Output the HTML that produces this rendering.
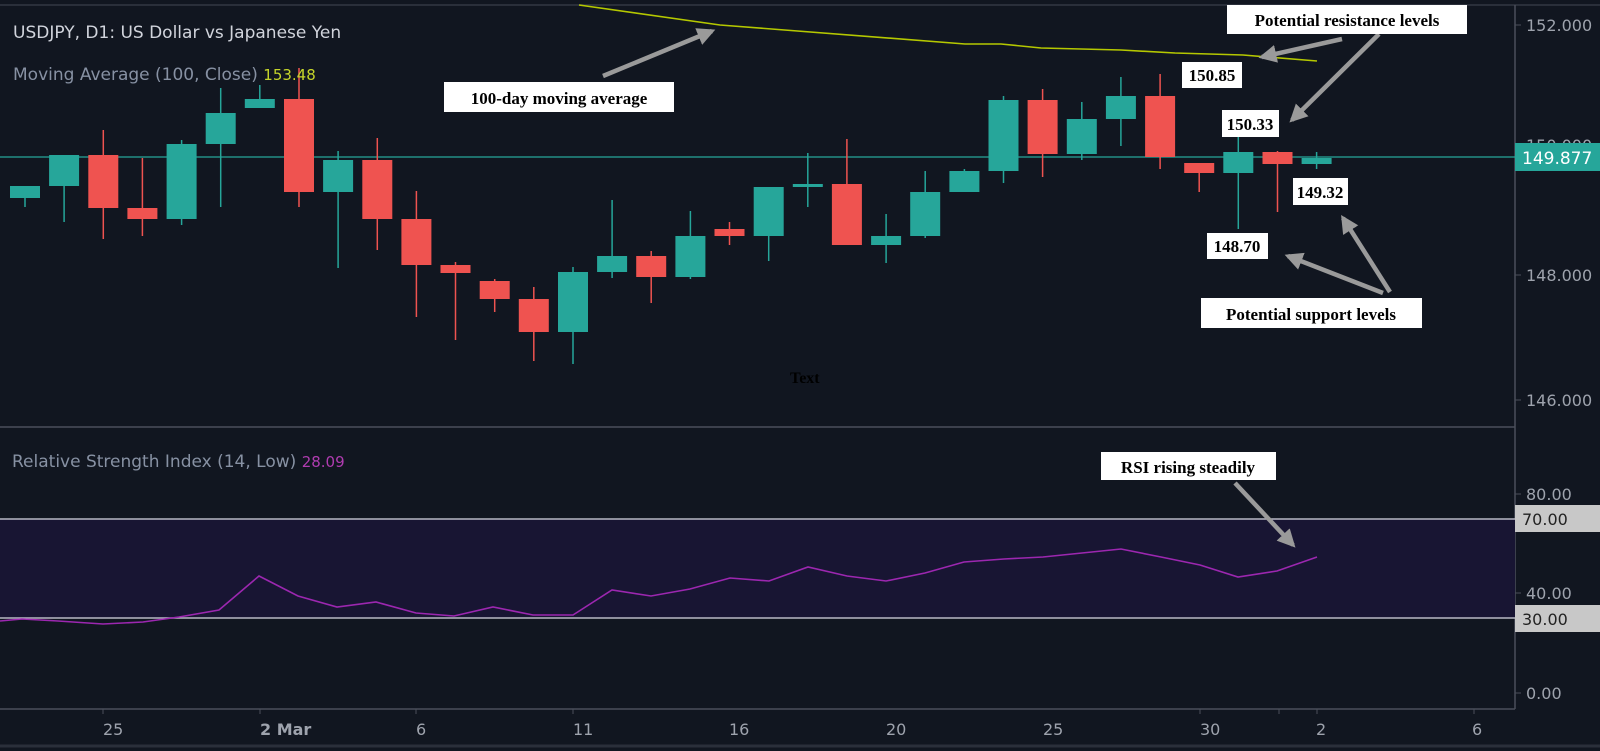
<!DOCTYPE html>
<html><head><meta charset="utf-8"><style>
html,body{margin:0;padding:0;background:#111620;}
svg{display:block}
.ax{font-family:"DejaVu Sans","Liberation Sans",sans-serif;font-size:16px;fill:#9ea3ad}
.an{font-family:"Liberation Serif",serif;font-weight:bold;font-size:17px;fill:#000}
.u line{stroke:#26a69a;stroke-width:1.5}.u rect{fill:#26a69a}
.d line{stroke:#ef5350;stroke-width:1.5}.d rect{fill:#ef5350}
</style></head><body>
<svg width="1600" height="751" viewBox="0 0 1600 751" xmlns="http://www.w3.org/2000/svg">
<rect width="1600" height="751" fill="#111620"/>
<line x1="0" y1="5" x2="1600" y2="5" stroke="#2a2f3a" stroke-width="2"/>
<line x1="0" y1="746" x2="1600" y2="746" stroke="#2a2f3a" stroke-width="3"/>
<line x1="1515" y1="5" x2="1515" y2="709" stroke="#4a4f5a" stroke-width="1.5"/>
<line x1="0" y1="427" x2="1515" y2="427" stroke="#4a4f5a" stroke-width="1.5"/>
<line x1="0" y1="709" x2="1515" y2="709" stroke="#4a4f5a" stroke-width="1.5"/>
<rect x="0" y="519" width="1515" height="99" fill="#181533"/>
<line x1="0" y1="519" x2="1515" y2="519" stroke="#b8b8c4" stroke-width="1.5"/>
<line x1="0" y1="618" x2="1515" y2="618" stroke="#b8b8c4" stroke-width="1.5"/>
<polyline fill="none" stroke="#9c27b0" stroke-width="1.6" points="0,621 22,619 58,621 103,624 143,622 179,617 219,610 259,576 298,596 337,607 376,602 416,613 454,616 493,607 533,615 573,615 612,590 651,596 690,589 730,578 769,581 808,567 847,576 886,581 925,573 964,562 1004,559 1043,557 1082,553 1121,549 1161,557 1200,565 1238,577 1277,571 1317,557"/>
<line x1="0" y1="157" x2="1515" y2="157" stroke="#26a69a" stroke-width="1.2"/>
<polyline fill="none" stroke="#b5c800" stroke-width="1.6" points="579,5 720,25 965,44 1001,44 1041,48 1121,50 1175,53 1243,55 1317,61"/>
<!-- candles -->
<g class="u"><line x1="25" x2="25" y1="186" y2="207"/><rect x="10" y="186" width="30" height="12"/></g>
<g class="u"><line x1="64.1" x2="64.1" y1="155" y2="222"/><rect x="49.1" y="155" width="30" height="31"/></g>
<g class="d"><line x1="103.3" x2="103.3" y1="130" y2="239"/><rect x="88.3" y="155" width="30" height="53"/></g>
<g class="d"><line x1="142.4" x2="142.4" y1="158" y2="236"/><rect x="127.4" y="208" width="30" height="11"/></g>
<g class="u"><line x1="181.6" x2="181.6" y1="140" y2="225"/><rect x="166.6" y="144" width="30" height="75"/></g>
<g class="u"><line x1="220.7" x2="220.7" y1="88" y2="207"/><rect x="205.7" y="113" width="30" height="31"/></g>
<g class="u"><line x1="259.8" x2="259.8" y1="85" y2="108"/><rect x="244.8" y="99" width="30" height="9"/></g>
<g class="d"><line x1="299" x2="299" y1="68" y2="207"/><rect x="284" y="99" width="30" height="93"/></g>
<g class="u"><line x1="338.1" x2="338.1" y1="151" y2="268"/><rect x="323.1" y="160" width="30" height="32"/></g>
<g class="d"><line x1="377.3" x2="377.3" y1="138" y2="250"/><rect x="362.3" y="160" width="30" height="59"/></g>
<g class="d"><line x1="416.4" x2="416.4" y1="191" y2="317"/><rect x="401.4" y="219" width="30" height="46"/></g>
<g class="d"><line x1="455.5" x2="455.5" y1="262" y2="340"/><rect x="440.5" y="265" width="30" height="8"/></g>
<g class="d"><line x1="494.7" x2="494.7" y1="279" y2="312"/><rect x="479.7" y="281" width="30" height="18"/></g>
<g class="d"><line x1="533.8" x2="533.8" y1="287" y2="361"/><rect x="518.8" y="299" width="30" height="33"/></g>
<g class="u"><line x1="573" x2="573" y1="267" y2="364"/><rect x="558" y="272" width="30" height="60"/></g>
<g class="u"><line x1="612.1" x2="612.1" y1="200" y2="278"/><rect x="597.1" y="256" width="30" height="16"/></g>
<g class="d"><line x1="651.2" x2="651.2" y1="251" y2="303"/><rect x="636.2" y="256" width="30" height="21"/></g>
<g class="u"><line x1="690.4" x2="690.4" y1="211" y2="279"/><rect x="675.4" y="236" width="30" height="41"/></g>
<g class="d"><line x1="729.5" x2="729.5" y1="222" y2="245"/><rect x="714.5" y="229" width="30" height="7"/></g>
<g class="u"><line x1="768.7" x2="768.7" y1="187" y2="261"/><rect x="753.7" y="187" width="30" height="49"/></g>
<g class="u"><line x1="807.8" x2="807.8" y1="153" y2="207"/><rect x="792.8" y="184" width="30" height="3"/></g>
<g class="d"><line x1="846.9" x2="846.9" y1="139" y2="245"/><rect x="831.9" y="184" width="30" height="61"/></g>
<g class="u"><line x1="886.1" x2="886.1" y1="214" y2="263"/><rect x="871.1" y="236" width="30" height="9"/></g>
<g class="u"><line x1="925.2" x2="925.2" y1="171" y2="238"/><rect x="910.2" y="192" width="30" height="44"/></g>
<g class="u"><line x1="964.4" x2="964.4" y1="169" y2="192"/><rect x="949.4" y="171" width="30" height="21"/></g>
<g class="u"><line x1="1003.5" x2="1003.5" y1="96" y2="183"/><rect x="988.5" y="100" width="30" height="71"/></g>
<g class="d"><line x1="1042.6" x2="1042.6" y1="89" y2="177"/><rect x="1027.6" y="100" width="30" height="54"/></g>
<g class="u"><line x1="1081.8" x2="1081.8" y1="102" y2="160"/><rect x="1066.8" y="119" width="30" height="35"/></g>
<g class="u"><line x1="1120.9" x2="1120.9" y1="77" y2="146"/><rect x="1105.9" y="96" width="30" height="23"/></g>
<g class="d"><line x1="1160.1" x2="1160.1" y1="74" y2="169"/><rect x="1145.1" y="96" width="30" height="61"/></g>
<g class="d"><line x1="1199.2" x2="1199.2" y1="163" y2="192"/><rect x="1184.2" y="163" width="30" height="10"/></g>
<g class="u"><line x1="1238.3" x2="1238.3" y1="137" y2="229"/><rect x="1223.3" y="152" width="30" height="21"/></g>
<g class="d"><line x1="1277.5" x2="1277.5" y1="151" y2="212"/><rect x="1262.5" y="152" width="30" height="12"/></g>
<g class="u"><line x1="1316.6" x2="1316.6" y1="152" y2="169"/><rect x="1301.6" y="158" width="30" height="6"/></g>
<!-- price axis -->
<g class="ax">
<line x1="1515" y1="25" x2="1521" y2="25" stroke="#4a4f5a"/><text x="1526" y="31">152.000</text>
<text x="1526" y="151">150.000</text>
<line x1="1515" y1="275" x2="1521" y2="275" stroke="#4a4f5a"/><text x="1526" y="281">148.000</text>
<line x1="1515" y1="400" x2="1521" y2="400" stroke="#4a4f5a"/><text x="1526" y="406">146.000</text>
<line x1="1515" y1="494" x2="1521" y2="494" stroke="#4a4f5a"/><text x="1526" y="500">80.00</text>
<line x1="1515" y1="593" x2="1521" y2="593" stroke="#4a4f5a"/><text x="1526" y="599">40.00</text>
<line x1="1515" y1="693" x2="1521" y2="693" stroke="#4a4f5a"/><text x="1526" y="699">0.00</text>
</g>
<rect x="1515" y="143" width="85" height="28" fill="#26a69a"/>
<text x="1522" y="164" class="ax" style="fill:#fff;font-size:17px">149.877</text>
<rect x="1515" y="505" width="85" height="27" fill="#c8c8c8"/>
<text x="1522" y="525" class="ax" style="fill:#222">70.00</text>
<rect x="1515" y="605" width="85" height="27" fill="#c8c8c8"/>
<text x="1522" y="625" class="ax" style="fill:#222">30.00</text>
<g stroke="#4a4f5a">
<line x1="103" y1="709" x2="103" y2="714"/><line x1="260" y1="709" x2="260" y2="714"/><line x1="416" y1="709" x2="416" y2="714"/><line x1="573" y1="709" x2="573" y2="714"/><line x1="1200" y1="709" x2="1200" y2="714"/><line x1="1279" y1="709" x2="1279" y2="714"/><line x1="1317" y1="709" x2="1317" y2="714"/><line x1="1474" y1="709" x2="1474" y2="714"/>
</g>
<g class="ax">
<text x="103" y="735">25</text><text x="260" y="735" style="font-weight:bold">2 Mar</text><text x="416" y="735">6</text><text x="573" y="735">11</text>
<text x="729" y="735">16</text><text x="886" y="735">20</text><text x="1043" y="735">25</text><text x="1200" y="735">30</text><text x="1316" y="735">2</text><text x="1472" y="735">6</text>
</g>
<text x="13" y="38" style="font-family:'DejaVu Sans',sans-serif;font-size:17px;fill:#d1d4dc">USDJPY, D1: US Dollar vs Japanese Yen</text>
<text x="13" y="80" style="font-family:'DejaVu Sans',sans-serif;font-size:17px;fill:#8791a3">Moving Average (100, Close) <tspan style="fill:#c5d52a;font-size:15px">153.48</tspan></text>
<text x="12" y="467" style="font-family:'DejaVu Sans',sans-serif;font-size:17px;fill:#8791a3">Relative Strength Index (14, Low) <tspan style="fill:#b03cb0;font-size:15px">28.09</tspan></text>
<text x="790" y="383" class="an" style="font-size:16px">Text</text>
<defs><marker id="ah" viewBox="0 0 10 10" refX="8" refY="5" markerWidth="4" markerHeight="4" orient="auto"><path d="M0,0 L10,5 L0,10 z" fill="#9a9a9a"/></marker></defs>
<g stroke="#9a9a9a" stroke-width="4.5" fill="none" marker-end="url(#ah)">
<line x1="603" y1="76" x2="712" y2="31"/>
<line x1="1342" y1="39" x2="1262" y2="57"/>
<line x1="1379" y1="34" x2="1292" y2="120"/>
<line x1="1383" y1="293" x2="1288" y2="256"/>
<line x1="1390" y1="292" x2="1343" y2="218"/>
<line x1="1235" y1="483" x2="1293" y2="545"/>
</g>
<g fill="#fff">
<rect x="444" y="82" width="230" height="30"/>
<rect x="1227" y="5" width="240" height="29"/>
<rect x="1182" y="62" width="60" height="26"/>
<rect x="1222" y="110" width="57" height="27"/>
<rect x="1293" y="178" width="55" height="27"/>
<rect x="1207" y="233" width="61" height="26"/>
<rect x="1201" y="298" width="221" height="30"/>
<rect x="1101" y="452" width="175" height="28"/>
</g>
<text x="559" y="104" class="an" text-anchor="middle">100-day moving average</text>
<text x="1347" y="26" class="an" text-anchor="middle">Potential resistance levels</text>
<text x="1212" y="81" class="an" text-anchor="middle">150.85</text>
<text x="1250" y="130" class="an" text-anchor="middle">150.33</text>
<text x="1320" y="198" class="an" text-anchor="middle">149.32</text>
<text x="1237" y="252" class="an" text-anchor="middle">148.70</text>
<text x="1311" y="320" class="an" text-anchor="middle">Potential support levels</text>
<text x="1188" y="473" class="an" text-anchor="middle">RSI rising steadily</text>
</svg>
</body></html>
